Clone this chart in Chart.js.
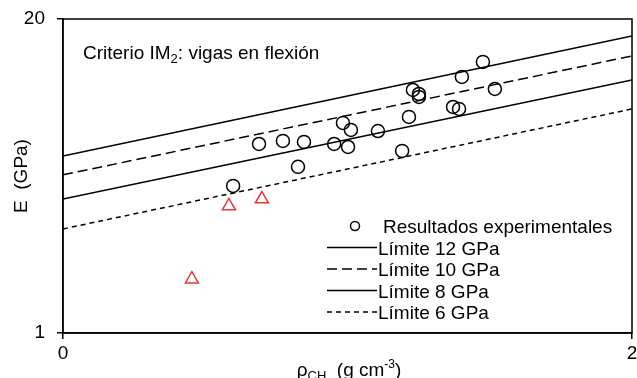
<!DOCTYPE html>
<html><head><meta charset="utf-8">
<script src="https://cdn.jsdelivr.net/npm/chart.js@4.4.1/dist/chart.umd.min.js"></script>
<style>html,body{margin:0;padding:0;background:#fff}#wrap{width:637px;height:378px;position:relative}</style>
</head><body><div id="wrap"><canvas id="c"></canvas></div>
<script>
// Experimental results (rho in g/cm3, E in GPa)
const expRho = [0.598,0.689,0.773,0.826,0.847,0.953,0.984,1.012,1.002,1.107,1.192,1.216,1.230,1.251,1.251,1.371,1.392,1.402,1.476,1.518];
const expE   = [4.07, 6.07, 6.25, 4.88, 6.19, 6.07, 7.42, 6.94, 5.90, 6.87, 5.68, 7.86, 10.16,9.78, 9.51, 8.64, 8.48, 11.51,13.28,10.26];
// Red triangles
const triRho = [0.453,0.583,0.699];
const triE   = [1.67, 3.36, 3.59];
// Limit lines
const limRho = [0, 1, 2];
const lim12 = [5.41, 9.60, 17.0];
const lim10 = [4.52, 7.97, 14.06];
const lim8  = [3.59, 6.34, 11.18];
const lim6  = [2.70, 4.78, 8.48];
const yTickVals = [1, 20];
const xTickVals = [0, 2];
const legendLabels = ['Resultados experimentales','Límite 12 GPa','Límite 10 GPa','Límite 8 GPa','Límite 6 GPa'];

const FONT = "'Liberation Sans', Arial, sans-serif";
const pts = (xs, ys) => xs.map((x, i) => ({x: x, y: ys[i]}));

const lineDs = (label, ys, dash) => ({
  type: 'line', label: label, data: pts(limRho, ys),
  borderColor: '#000', borderWidth: 1.5, borderDash: dash,
  pointRadius: 0, fill: false, tension: 0, order: 2
});

const datasets = [
  {type:'scatter', label: legendLabels[0], data: pts(expRho, expE), pointStyle:'circle', pointRadius:6.5,
   borderColor:'#000', borderWidth:1.5, backgroundColor:'rgba(0,0,0,0)', order:1},
  {type:'scatter', label: 'tri', data: pts(triRho, triE), pointStyle:'triangle', pointRadius:7.5,
   borderColor:'#ee3333', borderWidth:1.5, backgroundColor:'rgba(0,0,0,0)', order:1},
  lineDs(legendLabels[1], lim12, []),
  lineDs(legendLabels[2], lim10, [10,5]),
  lineDs(legendLabels[3], lim8, []),
  lineDs(legendLabels[4], lim6, [5,4])
];

const fixArea = {
  id: 'fixArea',
  afterLayout(chart) {
    const a = chart.chartArea, xs = chart.scales.x;
    const target = chart.width - 5;
    a.right = target; a.width = a.right - a.left;
    xs.right = target; xs.width = xs.right - xs.left;
    xs.configure();
  }
};

const extras = {
  id: 'extras',
  afterDraw(chart) {
    const ctx = chart.ctx, a = chart.chartArea;
    ctx.save();
    // frame
    ctx.strokeStyle = '#000'; ctx.lineWidth = 1.5;
    ctx.strokeRect(a.left, a.top, a.right - a.left, a.bottom - a.top);
    ctx.fillStyle = '#000';
    ctx.textBaseline = 'alphabetic';
    // annotation
    ctx.font = '19px ' + FONT; ctx.textAlign = 'left';
    let x = 83, y = 59;
    const p1 = 'Criterio IM';
    ctx.fillText(p1, x, y); x += ctx.measureText(p1).width;
    ctx.font = '13px ' + FONT; ctx.fillText('2', x, y + 4); x += ctx.measureText('2').width;
    ctx.font = '19px ' + FONT; ctx.fillText(': vigas en flexión', x, y);
    // y title
    ctx.save();
    ctx.translate(27, (a.top + a.bottom) / 2);
    ctx.rotate(-Math.PI / 2);
    ctx.textAlign = 'center';
    ctx.font = '19px ' + FONT;
    ctx.fillText('E  (GPa)', 0, 0);
    ctx.restore();
    // x title
    const parts = [['ρ',19,0],['CH',13,4],['  (g cm',19,0],['-3',12,-8],[')',19,0]];
    let tw = 0;
    parts.forEach(p => { ctx.font = p[1] + 'px ' + FONT; tw += ctx.measureText(p[0]).width; });
    x = 349 - tw / 2; y = 376;
    parts.forEach(p => { ctx.font = p[1] + 'px ' + FONT; ctx.fillText(p[0], x, y + p[2]); x += ctx.measureText(p[0]).width; });
    // legend
    const rows = [226, 247.5, 269, 290.5, 312];
    ctx.font = '19px ' + FONT;
    rows.forEach((ry, i) => {
      const ds = datasets[i === 0 ? 0 : i + 1];
      if (i === 0) {
        ctx.beginPath(); ctx.lineWidth = 1.5; ctx.setLineDash([]);
        ctx.arc(355, ry, 4.5, 0, Math.PI * 2); ctx.stroke();
        ctx.fillText(legendLabels[0], 383, ry + 7);
      } else {
        ctx.beginPath(); ctx.lineWidth = 1.5; ctx.setLineDash(ds.borderDash);
        ctx.moveTo(327, ry); ctx.lineTo(377, ry); ctx.stroke();
        ctx.setLineDash([]);
        ctx.fillText(legendLabels[i], 378, ry + 7);
      }
    });
    ctx.restore();
  }
};

new Chart(document.getElementById('c'), {
  data: { datasets: datasets },
  options: {
    responsive: true, maintainAspectRatio: false, devicePixelRatio: 1, animation: false,
    layout: { padding: { top: 19, right: 5, left: 0, bottom: 0 } },
    plugins: { legend: { display: false }, tooltip: { enabled: false } },
    scales: {
      x: {
        type: 'linear', min: 0, max: 2,
        afterBuildTicks: s => { s.ticks = xTickVals.map(v => ({value: v})); },
        afterFit: s => { s.height = 45; s.paddingLeft = 0; s.paddingRight = 0; },
        ticks: { color: '#000', font: { family: FONT, size: 19 }, padding: 3, callback: v => String(v), maxRotation: 0 },
        grid: { display: true, drawOnChartArea: false, drawTicks: true, tickLength: 6, color: '#000', lineWidth: 1.5 },
        border: { display: true, color: '#000', width: 1.5 }
      },
      y: {
        type: 'logarithmic', min: 1, max: 20,
        afterBuildTicks: s => { s.ticks = yTickVals.map(v => ({value: v})); },
        afterFit: s => { s.width = 63; s.paddingTop = 0; s.paddingBottom = 0; },
        ticks: { color: '#000', font: { family: FONT, size: 19 }, padding: 12, callback: v => String(v) },
        grid: { display: true, drawOnChartArea: false, drawTicks: true, tickLength: 6, color: '#000', lineWidth: 1.5 },
        border: { display: true, color: '#000', width: 1.5 }
      }
    }
  },
  plugins: [fixArea, extras]
});
</script>
</body></html>
